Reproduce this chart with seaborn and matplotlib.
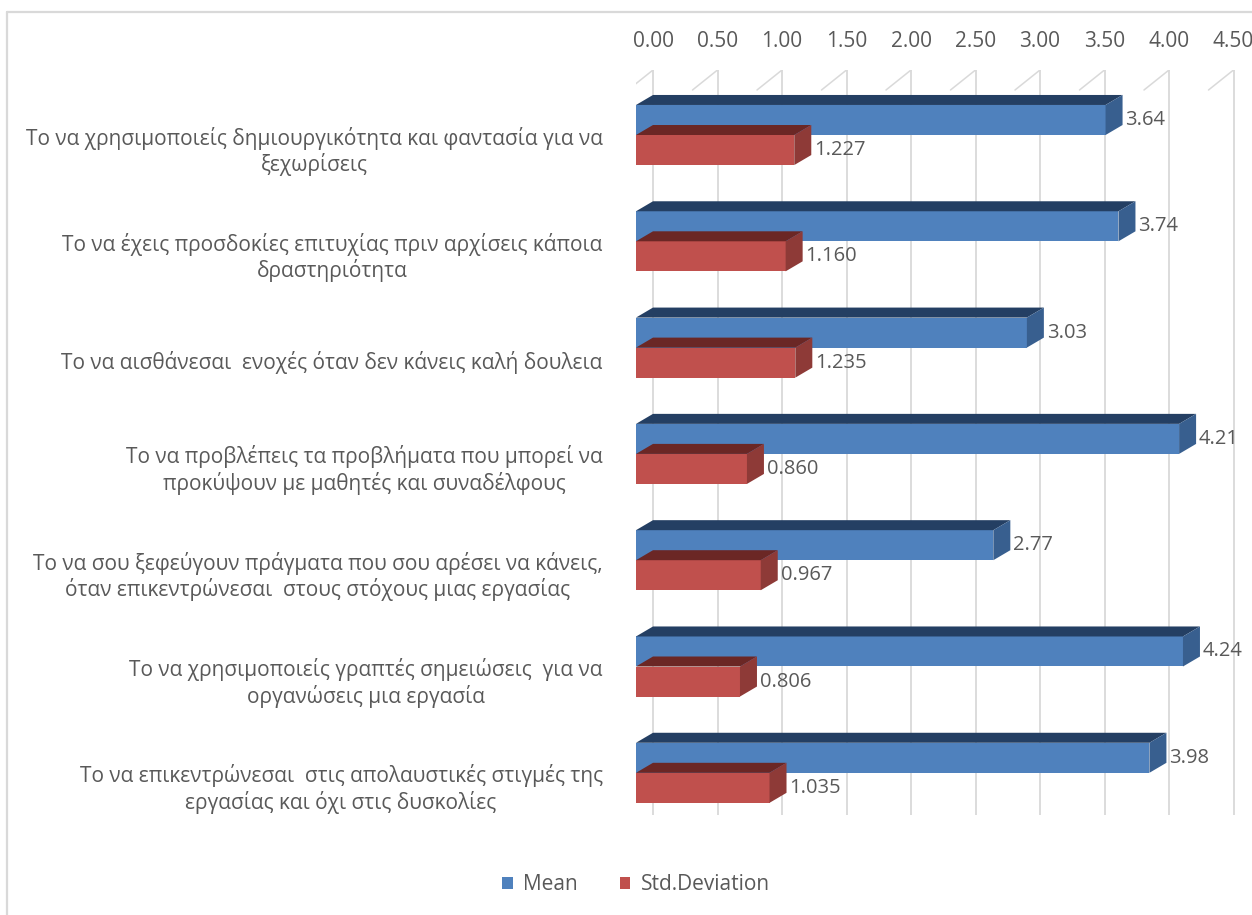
import pandas as pd
import seaborn as sns
import matplotlib.pyplot as plt
from matplotlib.patches import Polygon
from matplotlib.lines import Line2D
import matplotlib.transforms as mtransforms

statements = [
    'Το να χρησιμοποιείς δημιουργικότητα και φαντασία για να\nξεχωρίσεις',
    'Το να έχεις προσδοκίες επιτυχίας πριν αρχίσεις κάποια\nδραστηριότητα',
    'Το να αισθάνεσαι  ενοχές όταν δεν κάνεις καλή δουλεια',
    'Το να προβλέπεις τα προβλήματα που μπορεί να\nπροκύψουν με μαθητές και συναδέλφους',
    'Το να σου ξεφεύγουν πράγματα που σου αρέσει να κάνεις,\nόταν επικεντρώνεσαι  στους στόχους μιας εργασίας',
    'Το να χρησιμοποιείς γραπτές σημειώσεις  για να\nοργανώσεις μια εργασία',
    'Το να επικεντρώνεσαι  στις απολαυστικές στιγμές της\nεργασίας και όχι στις δυσκολίες',
]
mean_vals = [3.64, 3.74, 3.03, 4.21, 2.77, 4.24, 3.98]
std_vals = [1.227, 1.160, 1.235, 0.860, 0.967, 0.806, 1.035]
series = ['Mean', 'Std.Deviation']
xticks = [0.0, 0.5, 1.0, 1.5, 2.0, 2.5, 3.0, 3.5, 4.0, 4.5]

df = pd.DataFrame({
    'statement': statements * 2,
    'value': mean_vals + std_vals,
    'series': [series[0]] * len(statements) + [series[1]] * len(statements),
})

front = {'Mean': '#4F81BD', 'Std.Deviation': '#C0504D'}
top = {'Mean': '#243F63', 'Std.Deviation': '#6B2725'}
side = {'Mean': '#385F8F', 'Std.Deviation': '#8E3A37'}
txt = '#595959'
grid = '#D9D9D9'

sns.set_style('white')
plt.rcParams['font.family'] = ['Open Sans', 'DejaVu Sans']

fig = plt.figure(figsize=(12.52, 9.15), dpi=100)
W, H = 1252, 915
ax = fig.add_axes([636 / W, 1 - 815 / H, 609 / W, 745 / H])

sns.barplot(data=df, x='value', y='statement', hue='series', orient='h',
            palette=front, saturation=1, width=0.565, ax=ax, zorder=3, linewidth=0)

ppu = 129.0  # pixels per unit on x
ppc = 106.3  # pixels per category on y
dx = 17 / ppu
dy = 10 / ppc
ax.set_xlim(0, 609 / ppu)
ax.set_ylim((815 - 135) / ppc, (70 - 135) / ppc)

# 3D style faces
for k, cont in enumerate(ax.containers):
    name = series[k]
    z = 3 + k
    for p in cont.patches:
        p.set_zorder(z)
        w = p.get_width()
        yt = p.get_y()
        yb = yt + p.get_height()
        ax.add_patch(Polygon([(0, yt), (w, yt), (w + dx, yt - dy), (dx, yt - dy)],
                             closed=True, fc=top[name], ec='none', zorder=z))
        ax.add_patch(Polygon([(w, yt), (w + dx, yt - dy), (w + dx, yb - dy), (w, yb)],
                             closed=True, fc=side[name], ec='none', zorder=z))
        fmt = '{:.2f}' if name == 'Mean' else '{:.3f}'
        ax.text(w + dx + 3 / ppu, (yt + yb) / 2, fmt.format(w), va='center',
                ha='left', fontsize=14.5, color=txt, zorder=6)

# back wall gridlines and small floor diagonals
ytop, ylow = ax.get_ylim()[1], (90 - 135) / ppc
for t in xticks:
    ax.plot([t + dx, t + dx], [ytop, ax.get_ylim()[0]], color=grid, lw=1.3, zorder=1)
    ax.plot([t + dx - 25 / ppu, t + dx], [ylow, ytop], color=grid, lw=1.1, zorder=1)

ax.xaxis.tick_top()
ax.set_xticks([t + dx for t in xticks])
ax.set_xticklabels([f'{t:.2f}' for t in xticks], fontsize=15, color=txt)
ax.tick_params(axis='x', length=0, pad=13)
ax.tick_params(axis='y', length=0, pad=24)
ax.set_yticks(range(len(statements)))
ax.set_yticklabels(statements, fontsize=15, color=txt)
shift = mtransforms.ScaledTranslation(0, -12 / 100, fig.dpi_scale_trans)
for lab in ax.get_yticklabels():
    lab.set_multialignment('center')
    lab.set_transform(lab.get_transform() + shift)
ax.set_xlabel('')
ax.set_ylabel('')
sns.despine(ax=ax, left=True, bottom=True, top=True, right=True)

handles, labels = ax.get_legend_handles_labels()
ax.legend_.remove()
fig.legend(handles, labels, loc='center', bbox_to_anchor=(0.508, 0.033), ncol=2,
           frameon=False, handlelength=0.5, handleheight=0.5, handletextpad=0.5,
           columnspacing=2.0, prop={'size': 15}, labelcolor=txt)

# chart frame
fig.add_artist(Line2D([7 / W, 7 / W], [0, 1 - 12 / H], color=grid, lw=1.6))
fig.add_artist(Line2D([7 / W, 1], [1 - 12 / H, 1 - 12 / H], color=grid, lw=1.6))

fig.savefig('out.png', dpi=100)
